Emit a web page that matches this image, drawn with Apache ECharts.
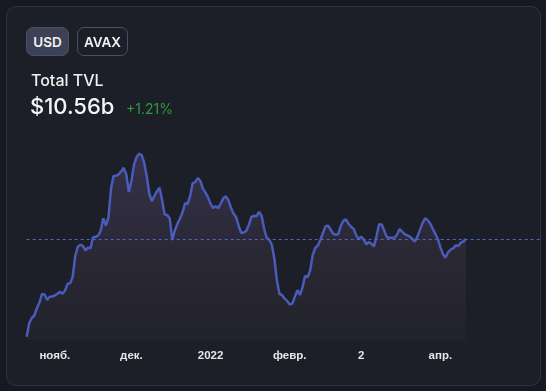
<!DOCTYPE html>
<html>
<head>
<meta charset="utf-8">
<script src="https://cdn.jsdelivr.net/npm/echarts@6/dist/echarts.min.js"></script>
<style>
  html, body { margin: 0; padding: 0; width: 546px; height: 391px; background: #171922; overflow: hidden; font-family: Inter, "Noto Sans", sans-serif; }
  #card { position: absolute; left: 6px; top: 6px; width: 533px; height: 378px; border: 1px solid #30333f; border-radius: 10px; background: #1c1e28; }
  #chart { position: absolute; left: 0; top: 0; width: 546px; height: 391px; }
  .btn { position: absolute; top: 27px; height: 29px; border-radius: 7px; box-sizing: border-box; color: #f2f2f2; font-weight: 600; font-size: 13.5px; line-height: 28px; text-align: center; }
  #usd { left: 26px; width: 43px; background: #3c4156; border: 1px solid #4a4f66; }
  #avax { left: 77px; width: 51px; border: 1px solid #4c505e; }
  #title { position: absolute; left: 31px; top: 70px; color: #f0f0f0; font-size: 16px; font-weight: 500; }
  #value { position: absolute; left: 30px; top: 93px; color: #f5f5f5; font-size: 22px; font-weight: 500; }
  #change { position: absolute; left: 126px; top: 100px; color: #2c9c3c; font-size: 14px; font-weight: 400; }
</style>
</head>
<body>
<div id="card"></div>
<div id="chart"></div>
<div class="btn" id="usd">USD</div>
<div class="btn" id="avax">AVAX</div>
<div id="title">Total TVL</div>
<div id="value">$10.56b</div>
<div id="change">+1.21%</div>
<script>
// Daily TVL values (billions USD), from 2021-10-21 to 2022-04-11
var startDate = '2021-10-21';
var tvl = [
  4.70, 5.52, 5.82, 5.97, 6.42, 6.75, 7.26, 7.23, 6.90, 7.10,
  7.11, 7.17, 7.28, 7.39, 7.27, 7.46, 7.87, 7.90, 8.28, 9.54,
  10.09, 10.22, 10.14, 9.88, 10.04, 10.01, 10.67, 10.69, 10.77, 11.07,
  11.80, 11.37, 11.85, 13.56, 14.34, 14.36, 14.44, 14.61, 14.83, 14.43,
  13.38, 14.03, 15.01, 15.46, 15.68, 15.60, 15.14, 14.34, 13.29, 12.83,
  13.13, 13.42, 13.64, 12.90, 12.03, 12.00, 11.80, 10.50, 11.06, 11.46,
  11.78, 12.15, 12.70, 12.66, 13.14, 13.90, 13.98, 14.21, 14.04, 13.58,
  13.34, 13.06, 12.67, 12.42, 12.53, 12.41, 12.69, 13.00, 13.12, 12.88,
  12.42, 12.09, 11.88, 11.34, 10.92, 10.95, 11.05, 11.40, 11.88, 11.94,
  11.94, 12.18, 11.94, 11.16, 10.62, 10.52, 10.20, 9.36, 8.04, 7.26,
  7.20, 6.98, 6.85, 6.62, 6.68, 7.08, 7.49, 7.20, 7.66, 8.34,
  8.28, 8.67, 9.60, 10.02, 10.17, 10.50, 10.92, 11.32, 11.35, 11.13,
  10.88, 10.81, 10.86, 11.34, 11.66, 11.73, 11.48, 11.29, 11.18, 10.79,
  10.54, 10.71, 10.52, 10.24, 10.38, 10.27, 10.12, 10.74, 11.45, 11.43,
  11.07, 10.67, 10.64, 10.63, 10.63, 10.82, 11.16, 11.00, 10.85, 10.78,
  10.71, 10.56, 10.40, 10.70, 11.11, 11.51, 11.80, 11.68, 11.49, 11.17,
  10.87, 10.55, 10.06, 9.65, 9.44, 9.76, 9.92, 10.00, 10.18, 10.14,
  10.34, 10.41, 10.56
];
var extraDays = 29; // empty space after last point
var tickDates = ['2021-11-01', '2021-12-01', '2022-01-01', '2022-02-01', '2022-03-01', '2022-04-01'];
var tickLabels = ['нояб.', 'дек.', '2022', 'февр.', '2', 'апр.'];

var categories = [];
var t0 = Date.parse(startDate + 'T00:00:00Z');
for (var i = 0; i < tvl.length + extraDays; i++) {
  categories.push(new Date(t0 + i * 86400000).toISOString().slice(0, 10));
}
var lastValue = tvl[tvl.length - 1];

var chart = echarts.init(document.getElementById('chart'));
chart.setOption({
  backgroundColor: 'transparent',
  animation: false,
  grid: { left: 26.7, right: 6, top: 140, bottom: 51 },
  xAxis: {
    type: 'category',
    boundaryGap: false,
    data: categories,
    axisLine: { show: false },
    axisTick: { show: false },
    splitLine: { show: false },
    axisLabel: {
      interval: function (idx, val) { return tickDates.indexOf(val) >= 0; },
      formatter: function (val) { var k = tickDates.indexOf(val); return k >= 0 ? tickLabels[k] : ''; },
      color: '#e6e6e8',
      fontSize: 11.5,
      fontWeight: 'bold',
      fontFamily: '"Liberation Sans", Arial, sans-serif',
      margin: 10
    }
  },
  yAxis: {
    type: 'value',
    min: 4.5,
    max: 16.5,
    show: false,
    splitLine: { show: false }
  },
  series: [{
    type: 'line',
    data: tvl,
    showSymbol: false,
    symbol: 'none',
    smooth: false,
    lineStyle: { color: '#4a5cb8', width: 2.5 },
    areaStyle: {
      color: new echarts.graphic.LinearGradient(0, 0, 0, 1, [
        { offset: 0, color: '#403a5a' },
        { offset: 0.5, color: '#312d3c' },
        { offset: 1, color: '#25242d' }
      ])
    },
    markLine: {
      silent: true,
      symbol: 'none',
      label: { show: false },
      lineStyle: { color: '#5064c6', width: 1, type: [3, 3], opacity: 1 },
      data: [{ yAxis: lastValue }]
    }
  }]
});
</script>
</body>
</html>
